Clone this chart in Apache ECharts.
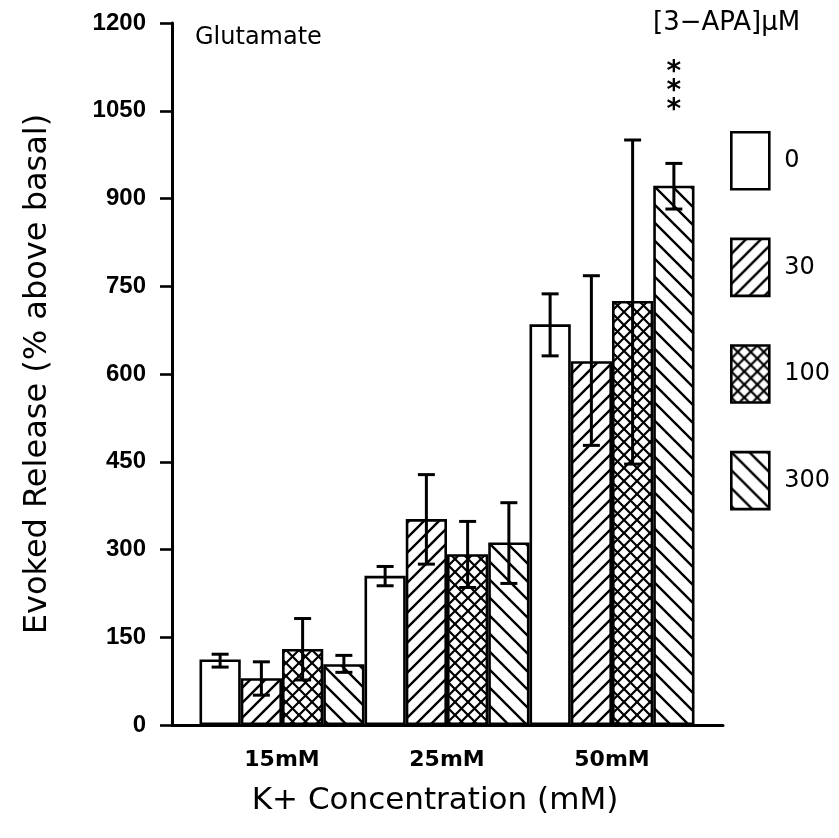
<!DOCTYPE html>
<html>
<head>
<meta charset="utf-8">
<script src="https://cdn.jsdelivr.net/npm/echarts@6/dist/echarts.min.js"></script>
<style>
html,body{margin:0;padding:0;background:#fff;}
#chart{width:839px;height:838px;}
</style>
</head>
<body>
<div id="chart"></div>
<script>
// ---- data ----
const categories = ['15mM', '25mM', '50mM'];
const doses = ['0', '30', '100', '300'];
const mean0   = [112, 255, 685];
const mean30  = [80, 352, 622];
const mean100 = [130, 292, 725];
const mean300 = [104, 312, 922];
const low0   = [99, 238, 631];
const high0  = [121, 271, 737];
const low30  = [51, 275, 478];
const high30 = [108, 428, 768];
const low100  = [77, 235, 446];
const high100 = [182, 348, 1000];
const low300  = [90, 242, 882];
const high300 = [119, 380, 960];
const yTicks = [0, 150, 300, 450, 600, 750, 900, 1050, 1200];
const stars = [[2, 3, 1083, '*\n*\n*']]; // [category, dose index, value, text]

const means = [mean0, mean30, mean100, mean300];
const lows = [low0, low30, low100, low300];
const highs = [high0, high30, high100, high300];

// ---- hatch patterns ----
function makePattern(size, fwd, back, lw) {
  const c = document.createElement('canvas');
  c.width = size; c.height = size;
  const g = c.getContext('2d');
  g.fillStyle = '#fff'; g.fillRect(0, 0, size, size);
  g.strokeStyle = '#000'; g.lineWidth = lw; g.lineCap = 'square';
  if (fwd) { // "/"
    g.beginPath();
    g.moveTo(-2, size + 2); g.lineTo(size + 2, -2);
    g.moveTo(-2, 2); g.lineTo(2, -2);
    g.moveTo(size - 2, size + 2); g.lineTo(size + 2, size - 2);
    g.stroke();
  }
  if (back) { // "\"
    g.beginPath();
    g.moveTo(-2, -2); g.lineTo(size + 2, size + 2);
    g.moveTo(size - 2, -2); g.lineTo(size + 2, 2);
    g.moveTo(-2, size - 2); g.lineTo(2, size + 2);
    g.stroke();
  }
  return { image: c, repeat: 'repeat' };
}
const fills = [
  '#ffffff',
  makePattern(15, true, false, 2.4),
  makePattern(13, true, true, 2.2),
  makePattern(18, false, true, 2.4)
];

const FONT = 'DejaVu Sans';
const chart = echarts.init(document.getElementById('chart'), null, { renderer: 'canvas' });

const barSeries = doses.map((d, i) => ({
  name: d,
  type: 'bar',
  xAxisIndex: 1,
  yAxisIndex: 1,
  data: means[i],
  barGap: '0%',
  barCategoryGap: '0%',
  itemStyle: { color: fills[i], borderColor: '#000', borderWidth: 2.6 },
  emphasis: { disabled: true },
  z: 2
}));

const errData = [];
for (let s = 0; s < doses.length; s++) {
  for (let c = 0; c < categories.length; c++) {
    errData.push([c, lows[s][c], highs[s][c], s]);
  }
}

const option = {
  animation: false,
  backgroundColor: '#fff',
  textStyle: { fontFamily: FONT, color: '#000' },
  title: [
    { text: 'Glutamate', left: 190, top: 21, textStyle: { fontFamily: FONT, fontSize: 24, fontWeight: 'normal', color: '#000' } },
    { text: '[3\u2212APA]\u03bcM', left: 648, top: 5, textStyle: { fontFamily: FONT, fontSize: 26, fontWeight: 'normal', color: '#000' } }
  ],
  legend: {
    data: doses,
    orient: 'vertical',
    left: 725,
    top: 126,
    itemWidth: 38,
    itemHeight: 57,
    itemGap: 47,
    icon: 'rect',
    selectedMode: false,
    itemStyle: { borderColor: '#000', borderWidth: 2.6 },
    textStyle: { fontFamily: FONT, fontSize: 24, color: '#000', padding: [0, 0, 0, 10] }
  },
  grid: [
    { left: 172, top: 23, width: 551, height: 702 },
    { left: 199.5, top: 23, width: 495, height: 702 }
  ],
  xAxis: [
    {
      gridIndex: 0, type: 'value', min: 0, max: 1,
      axisLine: { show: true, lineStyle: { color: '#000', width: 3 } },
      axisTick: { show: false }, axisLabel: { show: false }, splitLine: { show: false },
      name: 'K+ Concentration (mM)', nameLocation: 'middle', nameGap: 60,
      nameTextStyle: { fontFamily: FONT, fontSize: 31, color: '#000', padding: [0, 25, 0, 0] }
    },
    {
      gridIndex: 1, type: 'category', data: categories,
      axisLine: { show: false }, axisTick: { show: false },
      axisLabel: { fontFamily: FONT, fontSize: 22, fontWeight: 'bold', color: '#000', margin: 24 }
    }
  ],
  yAxis: [
    {
      gridIndex: 0, type: 'value', min: 0, max: 1200, interval: 150,
      axisLine: { show: true, lineStyle: { color: '#000', width: 3 } },
      axisTick: { show: true, inside: false, length: 12, lineStyle: { color: '#000', width: 2.6 } },
      axisLabel: { fontFamily: 'Liberation Sans', fontSize: 24, fontWeight: 'bold', color: '#000', margin: 26,
        formatter: v => (yTicks.indexOf(v) >= 0 ? String(v) : '') },
      splitLine: { show: false },
      name: 'Evoked Release (% above basal)', nameLocation: 'middle', nameGap: 118,
      nameTextStyle: { fontFamily: FONT, fontSize: 32, color: '#000' }
    },
    {
      gridIndex: 1, type: 'value', min: 0, max: 1200, interval: 150, show: false
    }
  ],
  series: barSeries.concat([
    {
      type: 'custom',
      xAxisIndex: 1, yAxisIndex: 1,
      data: errData,
      encode: { x: 0, y: [1, 2] },
      z: 5,
      silent: true,
      renderItem: function (params, api) {
        const c = api.value(0), lo = api.value(1), hi = api.value(2), s = api.value(3);
        const band = api.size([1, 0])[0];
        const pHi = api.coord([c, hi]);
        const pLo = api.coord([c, lo]);
        const x = pHi[0] + (s - 1.5) * band / 4;
        const cap = 8.5;
        const st = { stroke: '#000', lineWidth: 3, fill: null };
        return {
          type: 'group',
          children: [
            { type: 'line', shape: { x1: x, y1: pHi[1], x2: x, y2: pLo[1] }, style: st },
            { type: 'line', shape: { x1: x - cap, y1: pHi[1], x2: x + cap, y2: pHi[1] }, style: st },
            { type: 'line', shape: { x1: x - cap, y1: pLo[1], x2: x + cap, y2: pLo[1] }, style: st }
          ]
        };
      }
    },
    {
      type: 'custom',
      xAxisIndex: 1, yAxisIndex: 1,
      data: stars,
      encode: { x: 0, y: 2 },
      z: 5,
      silent: true,
      renderItem: function (params, api) {
        const c = api.value(0), s = api.value(1), v = api.value(2);
        const band = api.size([1, 0])[0];
        const p = api.coord([c, v]);
        const x = p[0] + (s - 1.5) * band / 4;
        return {
          type: 'text',
          style: {
            text: stars[params.dataIndex][3],
            x: x, y: p[1],
            align: 'center', verticalAlign: 'middle',
            font: 'bold 28px "DejaVu Sans"', lineHeight: 19, fill: '#000'
          }
        };
      }
    }
  ])
};
chart.setOption(option);
</script>
</body>
</html>
